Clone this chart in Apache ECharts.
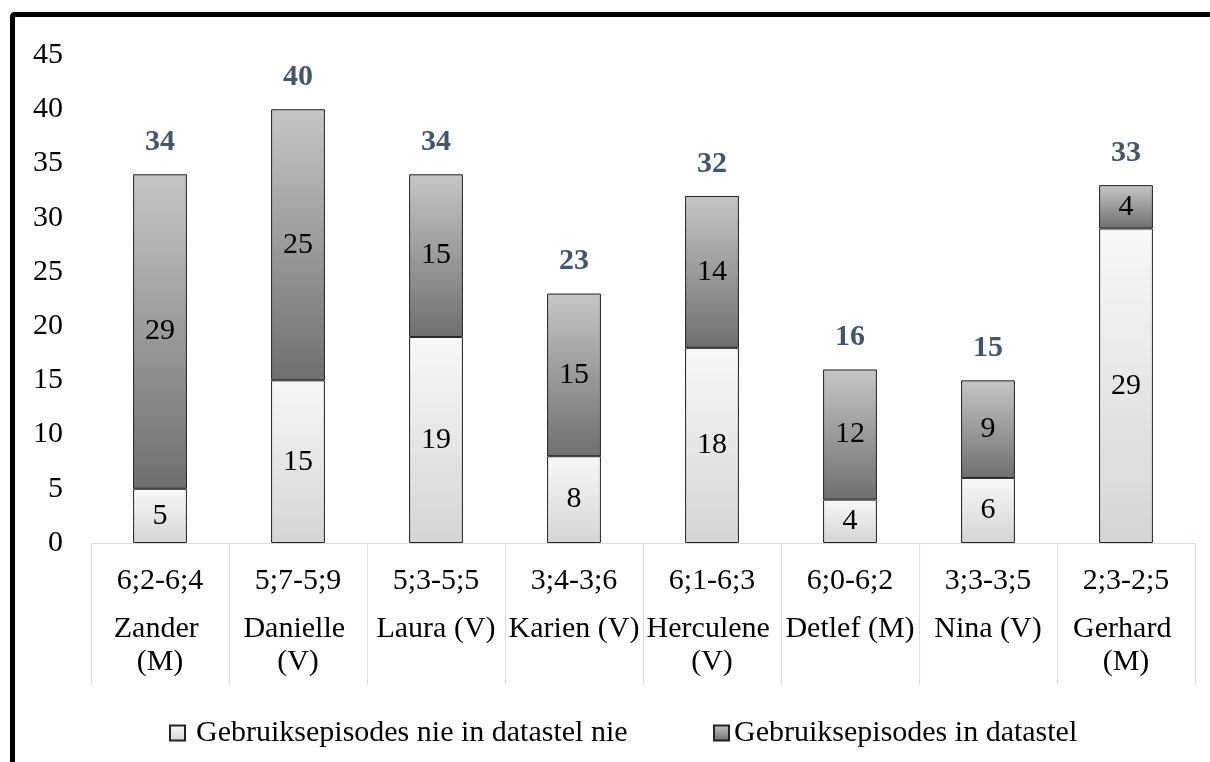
<!DOCTYPE html>
<html>
<head>
<meta charset="utf-8">
<script src="https://cdn.jsdelivr.net/npm/echarts@6/dist/echarts.min.js"></script>
<style>
	html, body { margin: 0; padding: 0; background: #fff; }
	#chartmain { width: 1210px; height: 762px; }
</style>
</head>
<body>
<div id="chartmain"></div>
<script>
var ages = ['6;2-6;4', '5;7-5;9', '5;3-5;5', '3;4-3;6', '6;1-6;3', '6;0-6;2', '3;3-3;5', '2;3-2;5'];
var names = ['Zander (M)', 'Danielle (V)', 'Laura (V)', 'Karien (V)', 'Herculene (V)', 'Detlef (M)', 'Nina (V)', 'Gerhard (M)'];
var notInSet = [5, 15, 19, 8, 18, 4, 6, 29];
var inSet = [29, 25, 15, 15, 14, 12, 9, 4];
var yTicks = [0, 45, 5];

var seriesNames = ['Gebruiksepisodes nie in datastel nie', 'Gebruiksepisodes in datastel'];
var totals = notInSet.map(function(v, i) { return v + inSet[i]; });

var font = '"Liberation Serif", "Times New Roman", serif';

function grad(top, bottom) {
	return new echarts.graphic.LinearGradient(0, 0, 0, 1, [
		{ offset: 0, color: top },
		{ offset: 1, color: bottom }
	]);
}

var option = {
	backgroundColor: '#fff',
	animation: false,
	textStyle: { fontFamily: font },
	graphic: [{
		type: 'rect',
		shape: { x: 12.5, y: 14.5, width: 1240, height: 790, r: 2 },
		style: { fill: 'none', stroke: '#000', lineWidth: 5 },
		z: 100
	}],
	grid: {
		left: 91,
		right: 15,
		top: 55,
		bottom: 219
	},
	legend: [{
		left: 164,
		top: 713,
		itemWidth: 15,
		itemHeight: 15,
		icon: 'rect',
		data: [seriesNames[0]],
		textStyle: { fontFamily: font, fontSize: 30, color: '#000', padding: [0, 0, 0, 6] }
	}, {
		left: 708,
		top: 713,
		itemWidth: 15,
		itemHeight: 15,
		icon: 'rect',
		data: [seriesNames[1]],
		textStyle: { fontFamily: font, fontSize: 30, color: '#000' }
	}],
	xAxis: [{
		type: 'category',
		data: ages,
		axisLine: { lineStyle: { color: '#d9dfe7', width: 1 } },
		axisTick: { show: true, length: 142, lineStyle: { color: '#d9dfe7', width: 1 } },
		axisLabel: { fontFamily: font, fontSize: 30, color: '#000', margin: 23 }
	}, {
		type: 'category',
		data: names,
		position: 'bottom',
		axisLine: { show: false },
		axisTick: { show: false },
		axisLabel: {
			fontFamily: font, fontSize: 30, color: '#000', margin: 70,
			width: 135, overflow: 'break', lineHeight: 33, interval: 0
		}
	}],
	yAxis: {
		type: 'value',
		min: yTicks[0],
		max: yTicks[1],
		interval: yTicks[2],
		axisLine: { show: false },
		axisTick: { show: false },
		splitLine: { show: false },
		axisLabel: { fontFamily: font, fontSize: 30, color: '#000', margin: 28 }
	},
	series: [{
		name: seriesNames[0],
		type: 'bar',
		stack: 'a',
		barWidth: '39%',
		data: notInSet,
		itemStyle: { color: grad('#f8f8f8', '#d5d5d5'), borderColor: '#222', borderWidth: 1 },
		label: { show: true, position: 'inside', fontFamily: font, fontSize: 30, color: '#000' }
	}, {
		name: seriesNames[1],
		type: 'bar',
		stack: 'a',
		data: inSet,
		itemStyle: { color: grad('#c6c6c6', '#6f6f6f'), borderColor: '#222', borderWidth: 1 },
		label: { show: true, position: 'inside', fontFamily: font, fontSize: 30, color: '#000' }
	}, {
		name: 'totaal',
		type: 'bar',
		stack: 'a',
		data: totals.map(function() { return 0; }),
		itemStyle: { color: 'transparent' },
		label: {
			show: true,
			position: 'top',
			distance: 17,
			fontFamily: font,
			fontSize: 30,
			fontWeight: 'bold',
			color: '#44546a',
			formatter: function(p) { return totals[p.dataIndex]; }
		}
	}]
};

var myChart = echarts.init(document.getElementById('chartmain'));
myChart.setOption(option);
</script>
</body>
</html>
